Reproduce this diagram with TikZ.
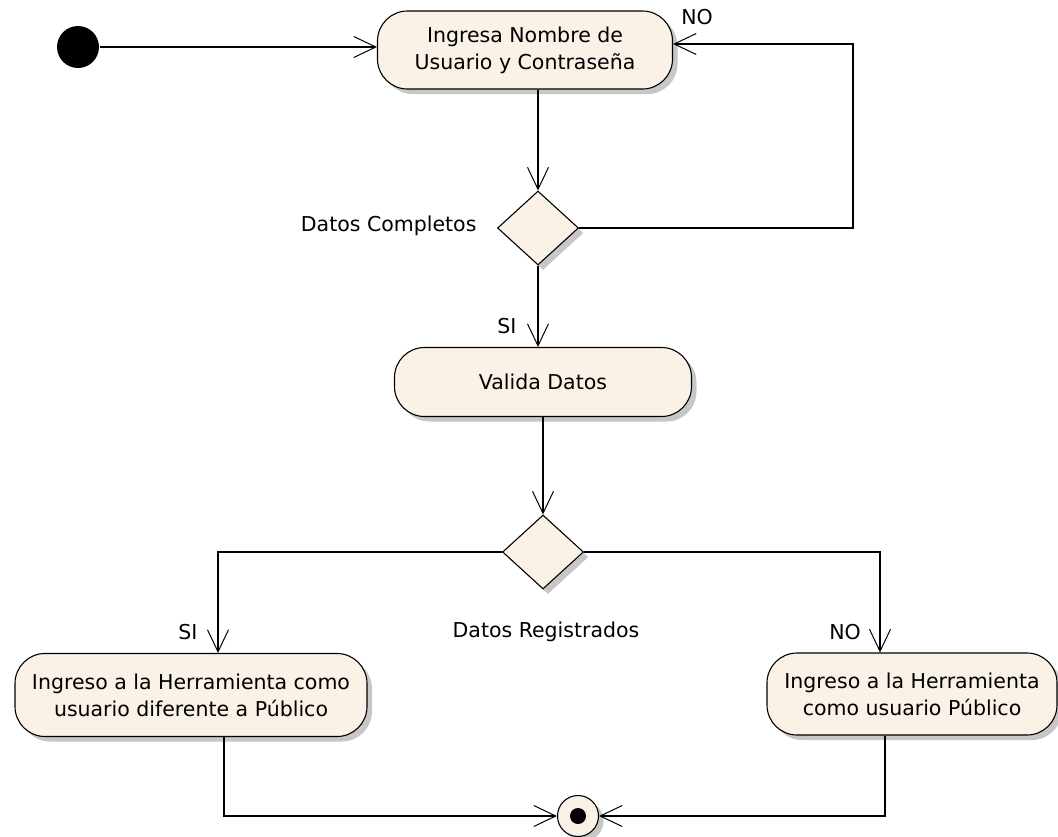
\documentclass[tikz,border=0pt]{standalone}
\usepackage{fontspec}
\setmainfont{DejaVu Sans}
\usetikzlibrary{shapes.geometric,arrows.meta,shadows}
\definecolor{actfill}{RGB}{250,242,230}
\definecolor{shadowgray}{RGB}{185,185,185}
\begin{document}
\begin{tikzpicture}[x=1pt,y=-1pt,
  font=\fontsize{20.5}{27}\selectfont,
  line width=1.1pt,
  flow/.style={-{Straight Barb[length=22pt,width=21pt,line width=1pt]}},
  shade/.style={drop shadow={shadow xshift=5pt,shadow yshift=-5pt,fill=shadowgray,opacity=0.8}},
  activity/.style={draw,fill=actfill,rounded corners=30pt,shade,align=center,inner sep=0pt},
  choice/.style={draw,fill=actfill,diamond,inner sep=0pt,minimum width=81pt,minimum height=74pt,shade},
  guard/.style={inner sep=0pt}]
\useasboundingbox (0,0) rectangle (1058,836);

% initial and final states
\node[circle,fill=black,minimum size=42pt,inner sep=0pt] (start) at (78,47) {};
\node[circle,draw,fill=actfill,minimum size=41pt,inner sep=0pt,shade] (final) at (578,816) {};
\fill (final) circle (8pt);

% activities
\node[activity,minimum width=295pt,minimum height=78pt] (login) at (525,50)
  {Ingresa Nombre de\\Usuario y Contraseña};
\node[activity,minimum width=297pt,minimum height=69pt] (valida) at (543,382) {Valida Datos};
\node[activity,minimum width=352pt,minimum height=83pt] (privado) at (191,695)
  {Ingreso a la Herramienta como\\usuario diferente a Público};
\node[activity,minimum width=290pt,minimum height=82pt] (publico) at (912,694)
  {Ingreso a la Herramienta\\como usuario Público};

% decisions
\node[choice] (completos) at (538,228) {};
\node[choice] (registrados) at (543,552) {};

% guard and decision labels
\node[guard,anchor=east] (lblcomp) at (477,226) {Datos Completos};
\node[guard] (lblreg) at (546,632) {Datos Registrados};
\node[guard] (no1) at (697,17) {NO};
\node[guard] (si1) at (507,326) {SI};
\node[guard] (si2) at (188,632) {SI};
\node[guard] (no2) at (845,632) {NO};

\coordinate (loopc) at (853,44);

% connectors
\draw[flow] (start) -- (start -| login.west);
\draw[flow] (completos.north |- login.south) -- (completos.north);
\draw[flow] (completos.east) -| (loopc) -- (loopc -| login.east);
\draw[flow] (completos.south) -- (completos.south |- valida.north);
\draw[flow] (registrados.north |- valida.south) -- (registrados.north);
\draw[flow] (registrados.west) -| ([xshift=27pt]privado.north);
\draw[flow] (registrados.east) -| ([xshift=-32pt]publico.north);
\draw[flow] ([xshift=33pt]privado.south) |- (final.west);
\draw[flow] ([xshift=-27pt]publico.south) |- (final.east);
\end{tikzpicture}
\end{document}
